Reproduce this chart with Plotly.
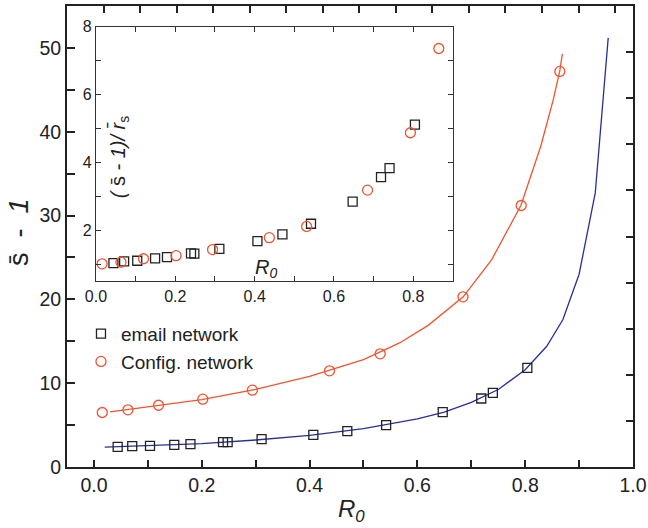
import plotly.graph_objects as go

# ---------------- data ----------------
email_r0 = [0.044, 0.071, 0.104, 0.149, 0.179, 0.2395, 0.248, 0.311, 0.407, 0.470, 0.542, 0.647, 0.7185, 0.740, 0.804]
email_s = [2.41, 2.48, 2.53, 2.65, 2.72, 2.96, 2.96, 3.32, 3.84, 4.27, 4.99, 6.54, 8.17, 8.85, 11.83]

config_r0 = [0.0154, 0.063, 0.1198, 0.2019, 0.2939, 0.437, 0.531, 0.6846, 0.7926, 0.8642]
config_s = [6.50, 6.82, 7.37, 8.09, 9.17, 11.47, 13.50, 20.3, 31.2, 47.2]

email_fit_r0 = [0.02, 0.1, 0.2, 0.3, 0.4, 0.5, 0.6, 0.65, 0.7, 0.75, 0.8, 0.84, 0.87, 0.90, 0.93, 0.954]
email_fit_s = [2.36, 2.52, 2.80, 3.22, 3.78, 4.58, 5.75, 6.55, 7.7, 9.25, 11.6, 14.4, 17.6, 23.0, 32.7, 51.2]

config_fit_r0 = [0.03, 0.1, 0.2, 0.3, 0.4, 0.5, 0.567, 0.62, 0.685, 0.738, 0.792, 0.829, 0.852, 0.864, 0.869]
config_fit_s = [6.58, 7.2, 8.05, 9.25, 10.8, 12.8, 14.8, 16.9, 20.3, 24.75, 31.2, 38.3, 43.8, 47.2, 49.3]

inset_email_ratio = [1.04, 1.09, 1.11, 1.18, 1.22, 1.33, 1.32, 1.46, 1.69, 1.89, 2.20, 2.85, 3.57, 3.84, 5.12]
inset_config_ratio = [1.02, 1.07, 1.17, 1.26, 1.44, 1.79, 2.12, 3.19, 4.88, 7.36]

legend_names = ["email network", "Config. network"]

# tick positions and labels (minor ticks carry empty labels)
main_x_ticks = [0.0, 0.1, 0.2, 0.3, 0.4, 0.5, 0.6, 0.7, 0.8, 0.9, 1.0]
main_x_labels = ["0.0", "", "0.2", "", "0.4", "", "0.6", "", "0.8", "", "1.0"]
main_y_ticks = [0, 5, 10, 15, 20, 25, 30, 35, 40, 45, 50, 55]
main_y_labels = ["0", "", "10", "", "20", "", "30", "", "40", "", "50", ""]
inset_x_ticks = [0.0, 0.1, 0.2, 0.3, 0.4, 0.5, 0.6, 0.7, 0.8]
inset_x_labels = ["0.0", "", "0.2", "", "0.4", "", "0.6", "", "0.8"]
inset_y_ticks = [1, 2, 3, 4, 5, 6, 7, 8]
inset_y_labels = ["", "2", "", "4", "", "6", "", "8"]

# ---------------- style ----------------
RED = "#EF5430"
BLUE = "#27309A"
DARK = "#222222"
INSET = "#333333"
FONT = "Liberation Sans, Arial, sans-serif"

fig = go.Figure()

fig.add_trace(go.Scatter(x=config_fit_r0, y=config_fit_s, mode="lines",
                         line=dict(color=RED, width=1.3), showlegend=False, hoverinfo="skip"))
fig.add_trace(go.Scatter(x=email_fit_r0, y=email_fit_s, mode="lines",
                         line=dict(color=BLUE, width=1.3), showlegend=False, hoverinfo="skip"))

fig.add_trace(go.Scatter(x=email_r0, y=email_s, mode="markers", name=legend_names[0],
                         marker=dict(symbol="square-open", size=9, color=DARK, line=dict(width=1.3))))
fig.add_trace(go.Scatter(x=config_r0, y=config_s, mode="markers", name=legend_names[1],
                         marker=dict(symbol="circle-open", size=10, color=RED, line=dict(width=1.3))))

fig.add_trace(go.Scatter(x=email_r0, y=inset_email_ratio, mode="markers", xaxis="x2", yaxis="y2",
                         marker=dict(symbol="square-open", size=9, color=DARK, line=dict(width=1.3)),
                         showlegend=False))
fig.add_trace(go.Scatter(x=config_r0, y=inset_config_ratio, mode="markers", xaxis="x2", yaxis="y2",
                         marker=dict(symbol="circle-open", size=10, color=RED, line=dict(width=1.3)),
                         showlegend=False))

# invisible helper traces so the decorative top / right frame axes are drawn
fig.add_trace(go.Scatter(x=[0], y=[0], xaxis="x3", yaxis="y", mode="markers",
                         marker=dict(opacity=0), showlegend=False, hoverinfo="skip"))
fig.add_trace(go.Scatter(x=[0], y=[0], xaxis="x", yaxis="y3", mode="markers",
                         marker=dict(opacity=0), showlegend=False, hoverinfo="skip"))

tickfont_main = dict(family=FONT, size=19.5, color=DARK)
tickfont_inset = dict(family=FONT, size=16, color=DARK)

fig.update_layout(
    template="none",
    width=648, height=528,
    margin=dict(l=67, r=15, t=6, b=61),
    paper_bgcolor="white", plot_bgcolor="rgba(0,0,0,0)",
    font=dict(family=FONT, color=DARK),
    xaxis=dict(range=[-0.05, 1.0], tickmode="array", tickvals=main_x_ticks, ticktext=main_x_labels,
               ticks="inside", ticklen=7, tickwidth=1.5, tickcolor=DARK,
               showline=True, linewidth=2, linecolor=DARK, mirror=False,
               showgrid=False, zeroline=False, tickfont=tickfont_main),
    yaxis=dict(range=[0, 55], tickmode="array", tickvals=main_y_ticks, ticktext=main_y_labels,
               ticks="inside", ticklen=8, tickwidth=1.5, tickcolor=DARK,
               showline=True, linewidth=2, linecolor=DARK, mirror=False,
               showgrid=False, zeroline=False, tickfont=tickfont_main),
    xaxis3=dict(overlaying="x", side="top", anchor="y", range=[-1, 14.49], tick0=0, dtick=1,
                ticks="inside", ticklen=7, tickwidth=1.5, tickcolor=DARK,
                showticklabels=False, showline=True, linewidth=2, linecolor=DARK,
                showgrid=False, zeroline=False),
    yaxis3=dict(overlaying="y", side="right", anchor="x", range=[0, 10], tick0=0, dtick=1,
                ticks="inside", ticklen=7, tickwidth=1.5, tickcolor=DARK,
                showticklabels=False, showline=True, linewidth=2, linecolor=DARK,
                showgrid=False, zeroline=False),
    xaxis2=dict(domain=[0.0512, 0.682], anchor="y2", range=[0, 0.9],
                tickmode="array", tickvals=inset_x_ticks, ticktext=inset_x_labels,
                ticks="inside", ticklen=5, tickwidth=1.2, tickcolor=INSET,
                showline=True, linewidth=1.3, linecolor=INSET, mirror="ticks",
                showgrid=False, zeroline=False, tickfont=tickfont_inset),
    yaxis2=dict(domain=[0.4024, 0.955], anchor="x2", range=[0.5, 8],
                tickmode="array", tickvals=inset_y_ticks, ticktext=inset_y_labels,
                ticks="inside", ticklen=5, tickwidth=1.2, tickcolor=INSET,
                showline=True, linewidth=1.3, linecolor=INSET, mirror="ticks",
                showgrid=False, zeroline=False, tickfont=tickfont_inset),
    legend=dict(x=0.0247, y=0.330, xanchor="left", yanchor="top",
                font=dict(family=FONT, size=19, color=DARK), bgcolor="rgba(0,0,0,0)",
                tracegroupgap=0, itemwidth=30),
    showlegend=True,
)

annotations = [
    dict(text="s\u0304 \u00a0- \u00a0<i>1</i>", x=-0.0848, y=0.5098, xref="paper", yref="paper",
         xanchor="center", yanchor="middle",
         showarrow=False, textangle=-90, font=dict(family=FONT, size=27, color=DARK)),
    dict(text="<i>R<sub>0</sub></i>", x=0.5035, y=-0.0954, xref="paper", yref="paper",
         xanchor="center", yanchor="middle",
         showarrow=False, font=dict(family=FONT, size=24, color=DARK)),
    dict(text="<i>R<sub>0</sub></i>", x=0.3516, y=0.4306, xref="paper", yref="paper",
         xanchor="center", yanchor="middle",
         showarrow=False, font=dict(family=FONT, size=20, color=DARK)),
    dict(text="<i>( </i>s\u0304<i> - 1)/ r\u0304</i><sub>s</sub>", x=0.0924, y=0.6725,
         xref="paper", yref="paper", showarrow=False, textangle=-90,
         xanchor="center", yanchor="middle",
         font=dict(family=FONT, size=20, color=DARK)),
]
fig.update_layout(annotations=annotations)

fig.write_html("out.html")
